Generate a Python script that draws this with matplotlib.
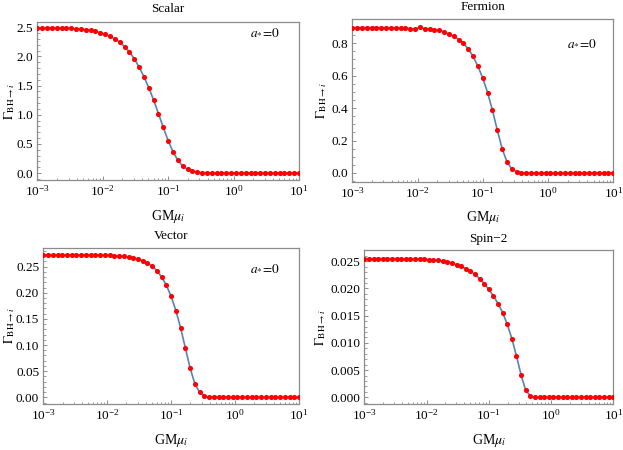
import matplotlib
matplotlib.use("Agg")
import matplotlib.pyplot as plt
from matplotlib.ticker import LogLocator, MultipleLocator, FormatStrFormatter, NullFormatter

plt.rcParams['font.family'] = ['Liberation Serif', 'DejaVu Serif']
plt.rcParams['mathtext.fontset'] = 'stix'

# GM*mu_i sample points (log-spaced, 1e-3 .. 1e1)
gm_mu = [0.001, 0.001186, 0.0014065, 0.0016681, 0.0019783, 0.0023462, 0.0027826, 0.0033001,
         0.0039138, 0.0046416, 0.0055048, 0.0065285, 0.0077426, 0.0091825, 0.010890, 0.012915,
         0.015317, 0.018165, 0.021544, 0.025551, 0.030302, 0.035938, 0.042621, 0.050547,
         0.059948, 0.071097, 0.084319,
         0.1, 0.1186, 0.14065, 0.16681, 0.19783, 0.23462, 0.27826, 0.33001, 0.39138, 0.46416,
         0.55048, 0.65285, 0.77426, 0.91825, 1.0890, 1.2915, 1.5317, 1.8165, 2.1544, 2.5551,
         3.0302, 3.5938, 4.2621, 5.0547, 5.9948, 7.1097, 8.4319, 10.0]

gamma_scalar = [2.490, 2.490, 2.490, 2.490, 2.487, 2.487, 2.481, 2.481, 2.476, 2.470,
                2.459, 2.447, 2.430, 2.407, 2.379, 2.344, 2.298, 2.247, 2.167, 2.075,
                1.961, 1.818, 1.652, 1.464, 1.252, 1.018, 0.783, 0.554, 0.366, 0.217,
                0.120, 0.063, 0.029, 0.012, 0.005, 0.002, 0.001, 0.0, 0.0, 0.0,
                0.0, 0.0, 0.0, 0.0, 0.0, 0.0, 0.0, 0.0, 0.0, 0.0, 0.0, 0.0, 0.0, 0.0, 0.0]

gamma_fermion = [0.897, 0.897, 0.897, 0.897, 0.897, 0.897, 0.897, 0.897, 0.895, 0.895,
                 0.895, 0.893, 0.890, 0.886, 0.899, 0.891, 0.887, 0.883, 0.879, 0.871,
                 0.858, 0.842, 0.823, 0.799, 0.764, 0.719, 0.657, 0.585, 0.495, 0.386,
                 0.264, 0.150, 0.068, 0.025, 0.008, 0.002, 0.0, 0.0, 0.0, 0.0,
                 0.0, 0.0, 0.0, 0.0, 0.0, 0.0, 0.0, 0.0, 0.0, 0.0, 0.0, 0.0, 0.0, 0.0, 0.0]

gamma_vector = [0.2723, 0.2723, 0.2723, 0.2723, 0.2723, 0.2723, 0.2723, 0.2723, 0.2723, 0.2723,
                0.2723, 0.2723, 0.2721, 0.2718, 0.2715, 0.2710, 0.2704, 0.2698, 0.2685, 0.2672,
                0.2647, 0.2615, 0.2567, 0.2510, 0.2420, 0.2299, 0.2143, 0.1930, 0.1658, 0.1327,
                0.0944, 0.0561, 0.0261, 0.0096, 0.0026, 0.0006, 0.0, 0.0, 0.0, 0.0,
                0.0, 0.0, 0.0, 0.0, 0.0, 0.0, 0.0, 0.0, 0.0, 0.0, 0.0, 0.0, 0.0, 0.0, 0.0]

gamma_spin2 = [0.02549, 0.02549, 0.02549, 0.02549, 0.02549, 0.02549, 0.02549, 0.02549, 0.02549, 0.02543,
               0.02543, 0.02543, 0.02543, 0.02537, 0.02531, 0.02525, 0.02518, 0.02506, 0.02494, 0.02469,
               0.02439, 0.02408, 0.02365, 0.02322, 0.02258, 0.02181, 0.02089, 0.01982, 0.01863, 0.01722,
               0.01556, 0.01342, 0.01078, 0.00760, 0.00410, 0.00129, 0.00025, 0.0, 0.0, 0.0,
               0.0, 0.0, 0.0, 0.0, 0.0, 0.0, 0.0, 0.0, 0.0, 0.0, 0.0, 0.0, 0.0, 0.0, 0.0]

titles = ["Scalar", "Fermion", "Vector", "Spin\u22122"]
annotation = r"$a_{*}\!=\!0$"

W, H = 623, 450
fig = plt.figure(figsize=(W / 100, H / 100), dpi=100)

# panel geometry in pixels: left, right, top, bottom
panels = [
    dict(title=titles[0], y=gamma_scalar, box=(37.3, 299.0, 22.3, 180.3), ylim=(-0.125, 2.585),
         major=0.5, minor=0.1, fmt='%.1f', ann=(265, 33), ylab_x=10, title_y=8.5),
    dict(title=titles[1], y=gamma_fermion, box=(352.3, 613.3, 19.3, 181.7), ylim=(-0.054, 0.948),
         major=0.2, minor=0.05, fmt='%.1f', ann=(582, 44), ylab_x=322, title_y=7.5),
    dict(title=titles[2], y=gamma_vector, box=(43.3, 299.0, 247.7, 404.3), ylim=(-0.0134, 0.2862),
         major=0.05, minor=0.01, fmt='%.2f', ann=(265, 269), ylab_x=10, title_y=236),
    dict(title=titles[3], y=gamma_spin2, box=(364.3, 613.3, 250.3, 404.3), ylim=(-0.00129, 0.02702),
         major=0.005, minor=0.001, fmt='%.3f', ann=None, ylab_x=321, title_y=239),
]

frame_col = '#8c8c8c'
for p in panels:
    l, r, t, b = p['box']
    ax = fig.add_axes([l / W, 1 - b / H, (r - l) / W, (b - t) / H])
    ax.plot(gm_mu, p['y'], color='#5E81B5', lw=1.2, zorder=2)
    ax.plot(gm_mu, p['y'], 'o', color='#FF0000', ms=3.7, mec='none', zorder=3)
    ax.set_xscale('log')
    ax.set_xlim(1e-3, 1e1)
    ax.set_ylim(*p['ylim'])
    ax.xaxis.set_major_locator(LogLocator(base=10, numticks=10))
    ax.xaxis.set_minor_locator(LogLocator(base=10, subs=range(2, 10), numticks=20))
    ax.xaxis.set_minor_formatter(NullFormatter())
    ax.yaxis.set_major_locator(MultipleLocator(p['major']))
    ax.yaxis.set_minor_locator(MultipleLocator(p['minor']))
    ax.yaxis.set_major_formatter(FormatStrFormatter(p['fmt']))
    for s in ax.spines.values():
        s.set_color(frame_col)
        s.set_linewidth(0.9)
    ax.tick_params(which='both', direction='in', top=False, right=False, color=frame_col,
                   labelsize=9.5, labelcolor='black', pad=3)
    ax.tick_params(which='major', length=3.2, width=0.7)
    ax.tick_params(which='minor', length=1.8, width=0.6)
    cx = (l + r) / 2
    fig.text(cx / W, 1 - p['title_y'] / H, p['title'], ha='center', va='center', fontsize=9.5)
    fig.text(cx / W, 1 - (b + 36) / H, r'GM$\mu_i$', ha='center', va='center', fontsize=10)
    fig.text(p['ylab_x'] / W, 1 - ((t + b) / 2) / H, r'$\Gamma_{\mathrm{BH}\to i}$',
             ha='center', va='center', rotation=90, fontsize=9.5)
    if p['ann'] is not None:
        fig.text(p['ann'][0] / W, 1 - p['ann'][1] / H, annotation, ha='center', va='center', fontsize=9.5)

fig.savefig('out.png', dpi=100)
